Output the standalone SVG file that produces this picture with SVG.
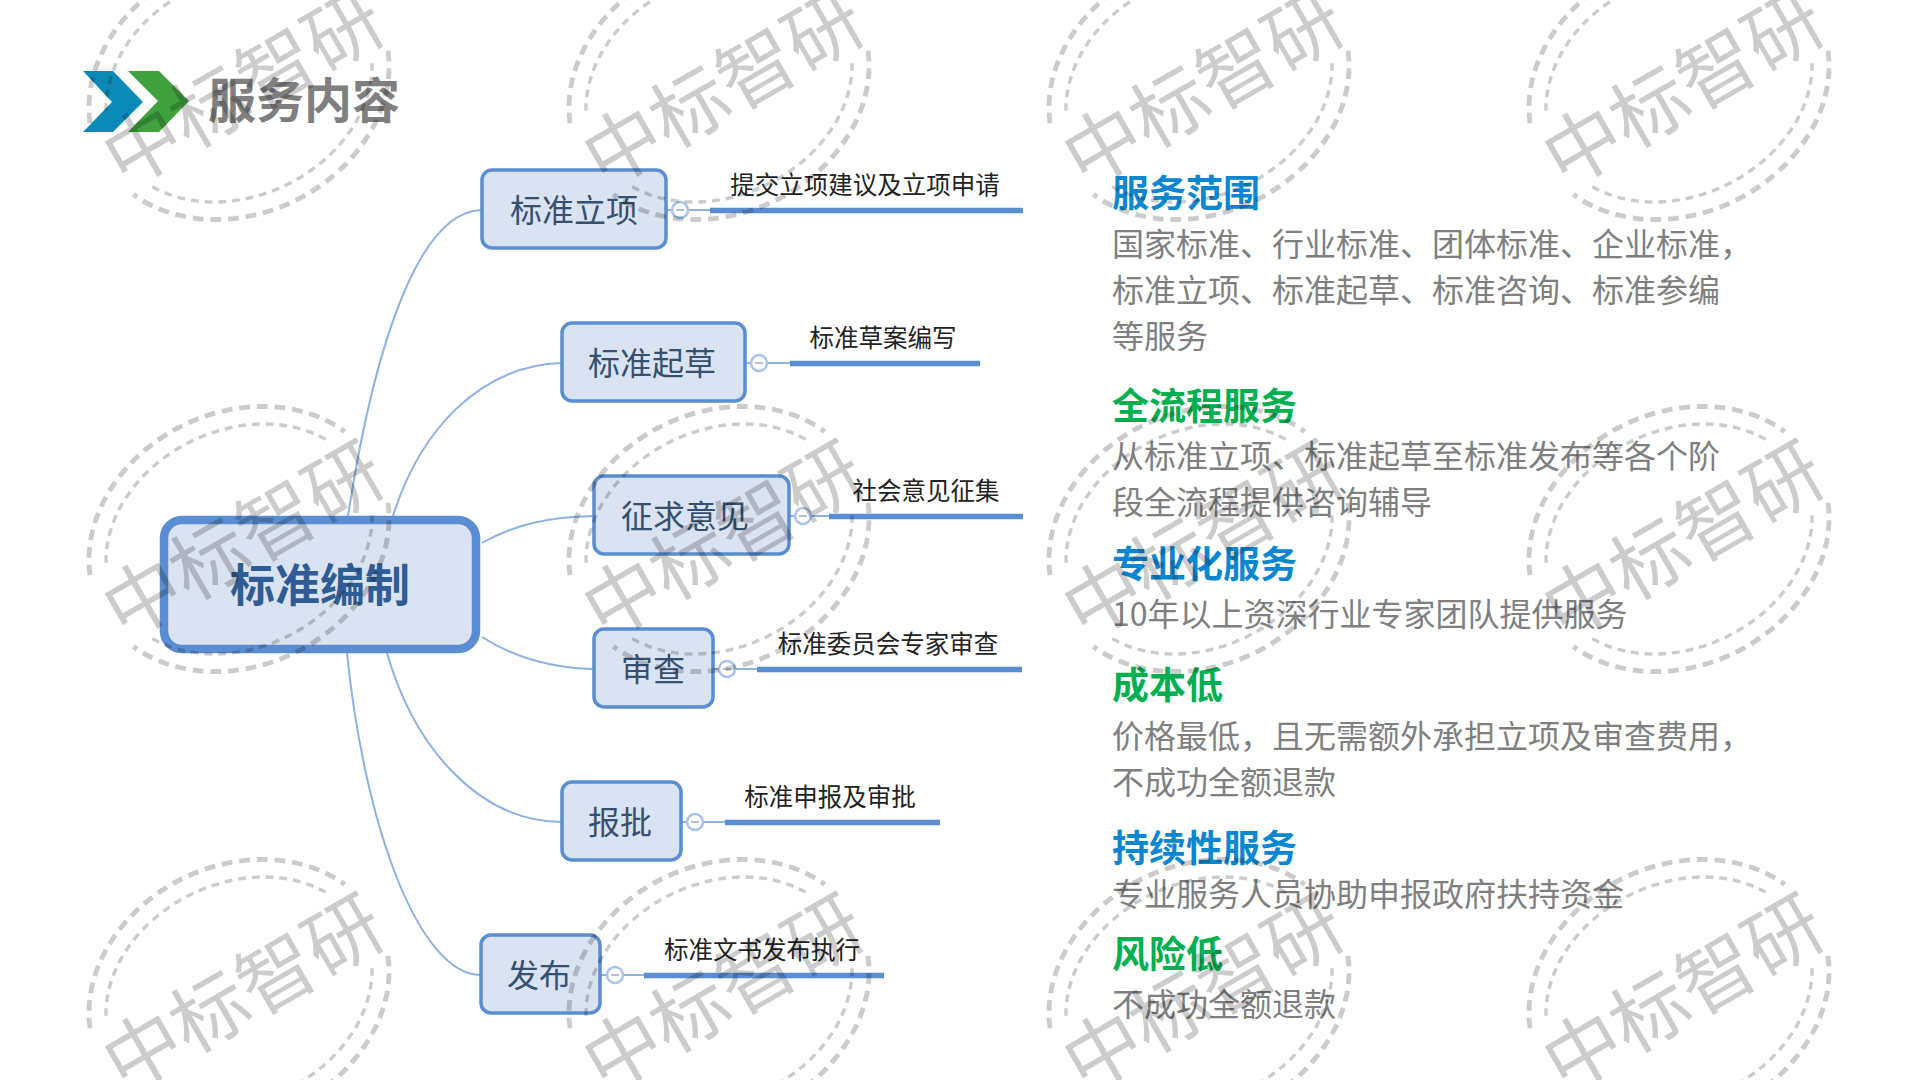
<svg xmlns="http://www.w3.org/2000/svg" width="1920" height="1080" viewBox="0 0 1920 1080">
<style>
text{font-family:"Noto Sans CJK SC","Noto Sans",sans-serif}
.box{fill:#dae3f1;stroke:#5a8dd1;stroke-width:3.5}
.root{fill:#dae3f1;stroke:#5a8dd1;stroke-width:8.500}
.n{font-size:32px;fill:#36506f;text-anchor:middle}
.rt{font-size:45px;font-weight:700;fill:#2f5c94;text-anchor:middle}
.sub{font-size:24.5px;fill:#222;text-anchor:middle}
.c{fill:none;stroke:#8fb2e0;stroke-width:2}
.t{fill:none;stroke:#5a8dd1;stroke-width:5.5}
.k{fill:#fff;stroke:#a9c3ea;stroke-width:2.5}
.m{stroke:#9aa8c4;stroke-width:1.5}
.hb{font-size:37px;font-weight:700;fill:#0a87d0}
.hg{font-size:37px;font-weight:700;fill:#00b050}
.b{font-size:32px;fill:#7f7f7f}
.w1{fill:none;stroke:#000;stroke-opacity:.2;stroke-width:5;stroke-dasharray:11 7}
.w2{fill:none;stroke:#000;stroke-opacity:.2;stroke-width:3.5;stroke-dasharray:8 6}
.wt{font-size:77px;fill:#000;fill-opacity:.2;text-anchor:middle}
</style>
<defs>
<g id="wm">
<g transform="scale(.98)">
<path class="w1" d="M-152 37A158 129 -26 0 1 107.800 -109.700"/>
<path class="w1" d="M152 -37A158 129 -26 0 1 -107.800 109.700"/>
<path class="w2" d="M-135.700 24.300A141 111 -26 0 1 92.400 -99.400"/>
<path class="w2" d="M135.700 -24.300A141 111 -26 0 1 -92.400 99.400"/>
</g>
<text class="wt" transform="translate(4 1) rotate(-30)" y="28">中标智研</text>
</g>
</defs>
<rect width="1920" height="1080" fill="#fff"/>
<g id="header">
<polygon points="83,71 113,71 143,102 113,132 83,132 112,102" fill="#0b8ab7"/>
<polygon points="128,71 159,71 189,101 159,132 128,132 158,101" fill="#3fa23f"/>
<text x="208" y="118" font-size="48" font-weight="700" fill="#7f7f7f">服务内容</text>
</g>
<g id="connectors">
<path class="c" d="M348 516C375 340 420 212 481 210"/>
<path class="c" d="M393 516C420 430 480 366 561 363"/>
<path class="c" d="M482 543C515 524 550 517 593 516"/>
<path class="c" d="M482 637C515 658 550 668 593 669"/>
<path class="c" d="M387 653C415 750 480 821 561 822"/>
<path class="c" d="M347 653C365 830 420 974 480 975"/>
<path class="c" d="M667 210H710M746 363H790M790 516H829M714 669H757M682 822H725M601 975H644"/>
<path class="t" d="M710 210.500H1023M790 363.500H980M829 516.500H1023M757 669.500H1022M725 822.500H940M644 975.500H884"/>
</g>
<g id="root"><rect class="root" x="164" y="520" width="312" height="129" rx="18"/><text class="rt" x="320" y="602">标准编制</text></g>
<g id="n1"><rect class="box" x="482" y="170" width="184" height="78" rx="10"/><text class="n" x="574" y="222">标准立项</text><circle class="k" cx="680" cy="210" r="8"/><path class="m" d="M676 210h8"/><text class="sub" x="865" y="194">提交立项建议及立项申请</text></g>
<g id="n2"><rect class="box" x="562" y="323" width="183" height="78" rx="10"/><text class="n" x="652" y="375">标准起草</text><circle class="k" cx="759" cy="363" r="8"/><path class="m" d="M755 363h8"/><text class="sub" x="883" y="347">标准草案编写</text></g>
<g id="n3"><rect class="box" x="594" y="476" width="195" height="78" rx="10"/><text class="n" x="685" y="528">征求意见</text><circle class="k" cx="803" cy="516" r="8"/><path class="m" d="M799 516h8"/><text class="sub" x="926" y="500">社会意见征集</text></g>
<g id="n4"><rect class="box" x="594" y="629" width="119" height="78" rx="10"/><text class="n" x="653" y="681">审查</text><circle class="k" cx="727" cy="669" r="8"/><path class="m" d="M723 669h8"/><text class="sub" x="888" y="653">标准委员会专家审查</text></g>
<g id="n5"><rect class="box" x="562" y="782" width="119" height="78" rx="10"/><text class="n" x="620" y="834">报批</text><circle class="k" cx="695" cy="822" r="8"/><path class="m" d="M691 822h8"/><text class="sub" x="830" y="806">标准申报及审批</text></g>
<g id="n6"><rect class="box" x="481" y="935" width="119" height="78" rx="10"/><text class="n" x="539" y="987">发布</text><circle class="k" cx="615" cy="975" r="8"/><path class="m" d="M611 975h8"/><text class="sub" x="762" y="959">标准文书发布执行</text></g>
<g id="services">
<text class="hb" x="1112" y="207">服务范围</text>
<text class="b" x="1112" y="256">国家标准、行业标准、团体标准、企业标准，</text>
<text class="b" x="1112" y="302">标准立项、标准起草、标准咨询、标准参编</text>
<text class="b" x="1112" y="348">等服务</text>
<text class="hg" x="1112" y="420">全流程服务</text>
<text class="b" x="1112" y="468">从标准立项、标准起草至标准发布等各个阶</text>
<text class="b" x="1112" y="514">段全流程提供咨询辅导</text>
<text class="hb" x="1112" y="578">专业化服务</text>
<text class="b" x="1112" y="626">10年以上资深行业专家团队提供服务</text>
<text class="hg" x="1112" y="699">成本低</text>
<text class="b" x="1112" y="748">价格最低，且无需额外承担立项及审查费用，</text>
<text class="b" x="1112" y="794">不成功全额退款</text>
<text class="hb" x="1112" y="862">持续性服务</text>
<text class="b" x="1112" y="906">专业服务人员协助申报政府扶持资金</text>
<text class="hg" x="1112" y="968">风险低</text>
<text class="b" x="1112" y="1016">不成功全额退款</text>
</g>
<g id="watermarks">
<use href="#wm" x="239" y="87"/><use href="#wm" x="719" y="87"/><use href="#wm" x="1199" y="87"/><use href="#wm" x="1679" y="87"/>
<use href="#wm" x="239" y="539"/><use href="#wm" x="719" y="539"/><use href="#wm" x="1199" y="539"/><use href="#wm" x="1679" y="539"/>
<use href="#wm" x="239" y="992"/><use href="#wm" x="719" y="992"/><use href="#wm" x="1199" y="992"/><use href="#wm" x="1679" y="992"/>
</g>
</svg>
